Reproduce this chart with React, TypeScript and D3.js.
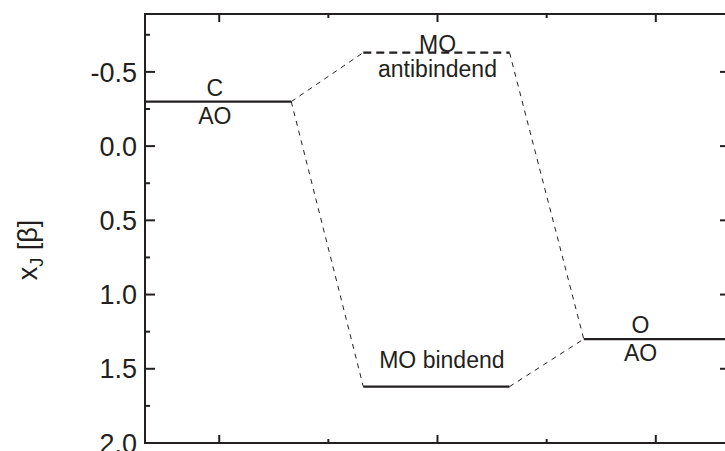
import React from "react";
import * as d3 from "d3";

// ---- data ----
const levelNames = ["C AO", "MO antibindend", "MO bindend", "O AO"];
const levelStart = [0.66, 1.66, 1.66, 2.67];
const levelEnd = [1.33, 2.33, 2.33, 3.34];
const levelEnergy = [-0.3, -0.63, 1.62, 1.3];
const labelAbove = ["C", "MO", "MO bindend", "O"];
const labelBelow = ["AO", "antibindend", "", "AO"];
const labelCenter = [0.98, 2.0, 2.02, 2.93];
// connector pairs: [from level (its end), to level (its start)]
const connectorFrom = [0, 0, 1, 2];
const connectorTo = [1, 2, 3, 3];

const yMajorTicks = [-0.5, 0.0, 0.5, 1.0, 1.5, 2.0];
const yMinorTicks = [-0.75, -0.25, 0.25, 0.75, 1.25, 1.75];
const xMajorTicks = [1, 2, 3];
const xMinorTicks = [1.5, 2.5];
const xDomain = [0.66, 3.34];
const yDomain = [-0.89, 2.0];
const yAxisTitle = "x";
const yAxisSub = "J";
const yAxisUnit = " [β]";

const W = 725;
const H = 451;
const ink = "#231f20";
const font = "'Liberation Sans', Arial, Helvetica, sans-serif";

export default function App() {
  const left = 145, right = 730, top = 14, bottom = 443;
  const x = d3.scaleLinear().domain(xDomain).range([left, right]);
  const y = d3.scaleLinear().domain(yDomain).range([top, bottom]);
  const fmt = (v: number) => d3.format(".1f")(v).replace("\u2212", "-");
  const line = d3.line<[number, number]>().x((d) => x(d[0])).y((d) => y(d[1]));

  const aboveDy = [-6, -1, -19, -6];
  const belowDy = [22, 24, 0, 22];

  return (
    <svg
      width={W}
      height={H}
      style={{ position: "absolute", left: 0, top: 0, background: "#fff" }}
      fontFamily={font}
    >
      {/* connectors */}
      {connectorFrom.map((f, i) => {
        const t = connectorTo[i];
        const pts: [number, number][] = [
          [levelEnd[f], levelEnergy[f]],
          [levelStart[t], levelEnergy[t]],
        ];
        return (
          <path
            key={"c" + i}
            d={line(pts) || ""}
            fill="none"
            stroke={ink}
            strokeWidth={1}
            strokeDasharray="5,5"
          />
        );
      })}

      {/* levels */}
      {levelNames.map((n, i) => (
        <path
          key={"l" + i}
          d={
            line([
              [levelStart[i], levelEnergy[i]],
              [levelEnd[i], levelEnergy[i]],
            ]) || ""
          }
          stroke={ink}
          strokeWidth={2.3}
          strokeDasharray={i === 1 ? "8,5" : undefined}
          fill="none"
        />
      ))}

      {/* labels */}
      {levelNames.map((n, i) => (
        <g key={"t" + i} fontSize={23} fill={ink} textAnchor="middle">
          {labelAbove[i] && (
            <text x={x(labelCenter[i])} y={y(levelEnergy[i]) + aboveDy[i]}>
              {labelAbove[i]}
            </text>
          )}
          {labelBelow[i] && (
            <text x={x(labelCenter[i])} y={y(levelEnergy[i]) + belowDy[i]}>
              {labelBelow[i]}
            </text>
          )}
        </g>
      ))}

      {/* frame */}
      <rect
        x={left}
        y={top}
        width={right - left}
        height={bottom - top}
        fill="none"
        stroke={ink}
        strokeWidth={2}
      />

      {/* y ticks left & right */}
      {yMajorTicks.map((v) => (
        <g key={"ym" + v} stroke={ink} strokeWidth={2}>
          <line x1={left} x2={left + 10} y1={y(v)} y2={y(v)} />
          <line x1={right} x2={right - 10} y1={y(v)} y2={y(v)} />
        </g>
      ))}
      {yMinorTicks.map((v) => (
        <g key={"yn" + v} stroke={ink} strokeWidth={2}>
          <line x1={left} x2={left + 5} y1={y(v)} y2={y(v)} />
          <line x1={right} x2={right - 5} y1={y(v)} y2={y(v)} />
        </g>
      ))}
      {yMajorTicks.map((v) => (
        <text
          key={"yl" + v}
          x={left - 8}
          y={y(v)}
          dy="0.36em"
          textAnchor="end"
          fontSize={27}
          fill={ink}
        >
          {fmt(v)}
        </text>
      ))}

      {/* x ticks top & bottom */}
      {xMajorTicks.map((v) => (
        <g key={"xm" + v} stroke={ink} strokeWidth={2}>
          <line x1={x(v)} x2={x(v)} y1={top} y2={top + 8} />
          <line x1={x(v)} x2={x(v)} y1={bottom} y2={bottom - 8} />
        </g>
      ))}
      {xMinorTicks.map((v) => (
        <g key={"xn" + v} stroke={ink} strokeWidth={2}>
          <line x1={x(v)} x2={x(v)} y1={top} y2={top + 4} />
          <line x1={x(v)} x2={x(v)} y1={bottom} y2={bottom - 4} />
        </g>
      ))}

      {/* y axis title */}
      <text
        transform={`translate(37, ${y(0.7)}) rotate(-90)`}
        textAnchor="middle"
        fontSize={27}
        fill={ink}
      >
        {yAxisTitle}
        <tspan fontSize={18} dy={6}>
          {yAxisSub}
        </tspan>
        <tspan dy={-6}>{yAxisUnit}</tspan>
      </text>
    </svg>
  );
}
